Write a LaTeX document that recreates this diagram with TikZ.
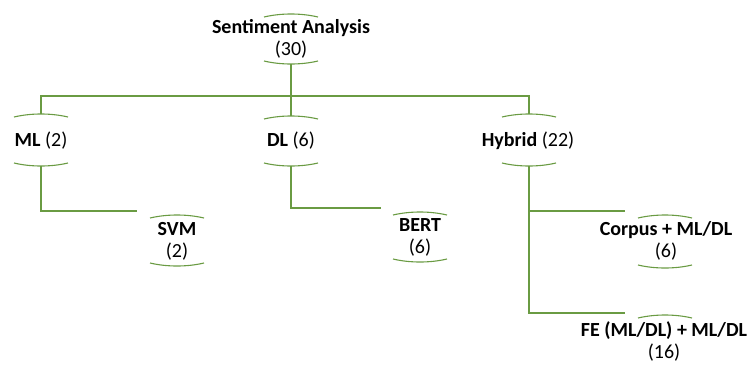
\documentclass[tikz,border=0pt]{standalone}
\usepackage{fontspec}
\setmainfont{Carlito}
\definecolor{gl}{HTML}{6A9B43}
\begin{document}
\begin{tikzpicture}[x=1pt,y=-1pt,
  lbl/.style={align=center,font=\fontsize{20}{22}\selectfont,inner sep=0pt},
  ln/.style={draw=gl,line width=1.1pt},
  capT/.pic={\draw[ln] (-27,3) .. controls (-10,-1) and (10,-1) .. (27,3);},
  capB/.pic={\draw[ln] (-27,-3) .. controls (-10,1) and (10,1) .. (27,-3);}]
\useasboundingbox (0,0) rectangle (750,365);
% nodes
\node[lbl] (root) at (291,39) {\textbf{Sentiment Analysis}\\(30)};
\node[lbl] (ml) at (41,141) {\textbf{ML} (2)};
\node[lbl] (dl) at (291,141) {\textbf{DL} (6)};
\node[lbl] (hyb) at (528,141) {\textbf{Hybrid} (22)};
\node[lbl] (svm) at (177,241) {\textbf{SVM}\\(2)};
\node[lbl] (bert) at (420,237) {\textbf{BERT}\\(6)};
\node[lbl] (cor) at (666,241) {\textbf{Corpus + ML/DL}\\(6)};
\node[lbl] (fe) at (664,341) {\textbf{FE (ML/DL) + ML/DL}\\(16)};
% cap coordinates
\coordinate (rootT) at (291,14);  \coordinate (rootB) at (291,64);
\coordinate (mlT) at (41,114);    \coordinate (mlB) at (41,166);
\coordinate (dlT) at (291,116);   \coordinate (dlB) at (291,166);
\coordinate (hybT) at (529,114);  \coordinate (hybB) at (529,166);
\coordinate (svmT) at (177,215);  \coordinate (svmB) at (177,266);
\coordinate (bertT) at (420,212); \coordinate (bertB) at (420,262);
\coordinate (corT) at (665,215);  \coordinate (corB) at (665,268);
\coordinate (feT) at (665,315);
% caps
\foreach \c in {rootT,mlT,dlT,hybT,svmT,bertT,corT,feT} \pic at (\c) {capT};
\foreach \c in {rootB,mlB,dlB,hybB,svmB,bertB,corB} \pic at (\c) {capB};
% connector end points
\coordinate (bus) at (291,96);
\coordinate (svmL) at (137,211);
\coordinate (bertL) at (381,208);
\coordinate (corL) at (625,211);
\coordinate (feL) at (625,313);
% connectors
\draw[ln] (rootB) -- (dlT);
\draw[ln] (mlT) |- (bus) -| (hybT);
\draw[ln] (mlB) |- (svmL);
\draw[ln] (dlB) |- (bertL);
\draw[ln] (hybB) |- (corL);
\draw[ln] (hybB) |- (feL);
\end{tikzpicture}
\end{document}
